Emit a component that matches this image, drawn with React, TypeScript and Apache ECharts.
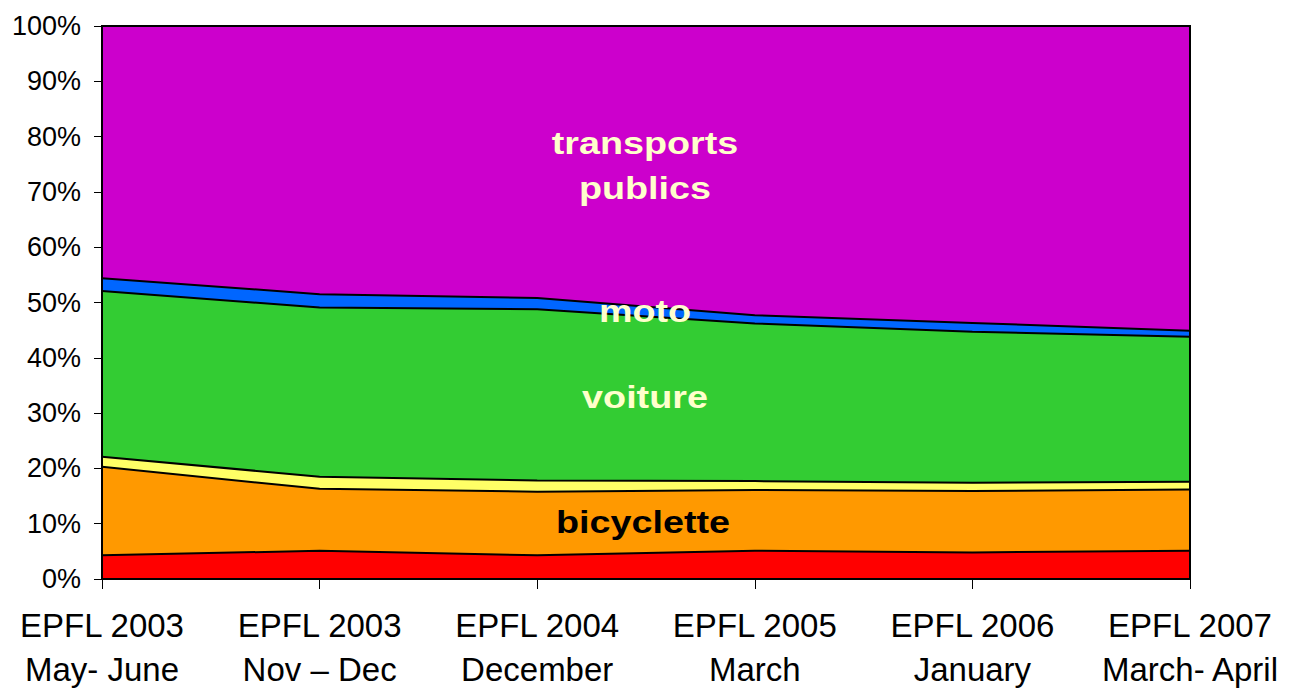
import React, { useEffect, useRef } from "react";
import * as echarts from "echarts";

const categories = [
  "EPFL 2003\nMay- June",
  "EPFL 2003\nNov – Dec",
  "EPFL 2004\nDecember",
  "EPFL 2005\nMarch",
  "EPFL 2006\nJanuary",
  "EPFL 2007\nMarch- April",
];

const red = [4.3, 5.1, 4.3, 5.1, 4.8, 5.1];
const bicyclette = [16.0, 11.2, 11.5, 11.0, 11.1, 11.1];
const yellow = [1.8, 2.2, 2.0, 1.6, 1.5, 1.4];
const voiture = [30.0, 30.6, 31.0, 28.5, 27.3, 26.2];
const moto = [2.3, 2.4, 2.0, 1.5, 1.6, 1.1];
const transportsPublics = [45.6, 48.5, 49.2, 52.3, 53.7, 55.1];

const yTicks = { min: 0, max: 100, interval: 10 };

const layers = [
  { name: "autre", data: red, color: "#FF0000" },
  { name: "bicyclette", data: bicyclette, color: "#FF9900" },
  { name: "marche", data: yellow, color: "#FFFF66" },
  { name: "voiture", data: voiture, color: "#33CC33" },
  { name: "moto", data: moto, color: "#0066FF" },
  { name: "transports publics", data: transportsPublics, color: "#CC00CC" },
];

const fontFamily = "Liberation Sans, Arial, sans-serif";

export default function App() {
  const ref = useRef<HTMLDivElement>(null);
  useEffect(() => {
    if (!ref.current) return;
    const chart = echarts.init(ref.current, undefined, { renderer: "svg" });
    const labelStyle = (text: string, x: number, y: number, fill: string) => ({
      type: "text",
      x,
      y,
      scaleX: 1.18,
      z: 100,
      style: {
        text,
        fill,
        font: `bold 32px ${fontFamily}`,
        textAlign: "center",
        textVerticalAlign: "middle",
      },
    });
    chart.setOption({
      animation: false,
      grid: {
        left: 102,
        width: 1088,
        top: 26,
        height: 553,
        outerBoundsMode: "none",
        containLabel: false,
        show: true,
        borderColor: "#000",
        borderWidth: 2,
        backgroundColor: "transparent",
        z: 20,
      },
      xAxis: {
        type: "category",
        data: categories,
        boundaryGap: false,
        axisLine: { show: true, lineStyle: { color: "#000", width: 2 } },
        axisTick: { show: true, length: 10, lineStyle: { color: "#000", width: 1 } },
        axisLabel: {
          color: "#000",
          fontSize: 33,
          fontFamily,
          lineHeight: 44,
          margin: 24,
          interval: 0,
        },
        splitLine: { show: false },
        z: 30,
      },
      yAxis: {
        type: "value",
        min: yTicks.min,
        max: yTicks.max,
        interval: yTicks.interval,
        axisLine: { show: true, lineStyle: { color: "#000", width: 2 } },
        axisTick: { show: true, length: 8, lineStyle: { color: "#000", width: 1 } },
        axisLabel: {
          color: "#000",
          fontSize: 27,
          fontFamily,
          margin: 21,
          formatter: "{value}%",
        },
        splitLine: { show: false },
        z: 30,
      },
      series: layers.map((l, i) => ({
        name: l.name,
        type: "line",
        stack: "total",
        data: l.data,
        showSymbol: false,
        symbol: "none",
        z: 10 - i,
        lineStyle: { color: "#000", width: 2 },
        areaStyle: { color: l.color, opacity: 1 },
        itemStyle: { color: l.color },
      })),
      graphic: [
        labelStyle("transports", 645, 143, "#FFFFCC"),
        labelStyle("publics", 645, 188, "#FFFFCC"),
        labelStyle("moto", 645, 311, "#FFFFCC"),
        labelStyle("voiture", 645, 397, "#FFFFCC"),
        labelStyle("bicyclette", 643, 522, "#000000"),
      ],
    });
    return () => chart.dispose();
  }, []);
  return (
    <div
      ref={ref}
      style={{ position: "absolute", left: 0, top: 0, width: 1292, height: 691, background: "#fff" }}
    />
  );
}
